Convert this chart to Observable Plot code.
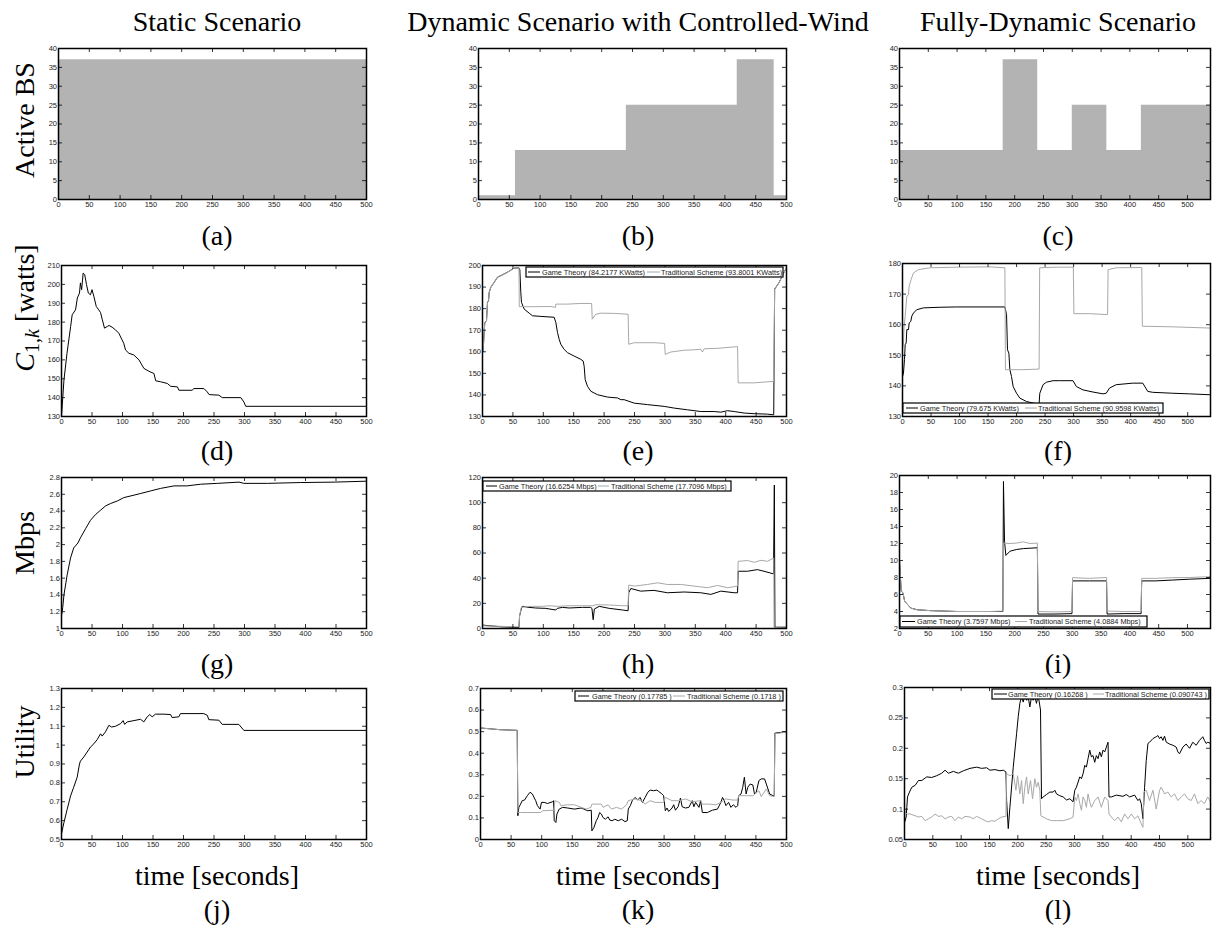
<!DOCTYPE html>
<html><head><meta charset="utf-8">
<script src="https://cdn.jsdelivr.net/npm/d3@7"></script>
<script src="https://cdn.jsdelivr.net/npm/@observablehq/plot@0.6"></script>
<style>
html,body{margin:0;padding:0;background:#fff;overflow:hidden}
#page{position:relative;width:1212px;height:933px;overflow:hidden;background:#fff}
.panel{position:absolute}
#overlay{position:absolute;left:0;top:0;z-index:5;pointer-events:none}
#overlay .serif{font-family:"Liberation Serif","DejaVu Serif",serif}
#overlay .sans{font-family:"Liberation Sans",Arial,sans-serif}
</style></head><body><div id="page"></div>
<script>
// ---------- titles & labels ----------
const columnTitles = ["Static Scenario", "Dynamic Scenario with Controlled-Wind", "Fully-Dynamic Scenario"];
const panelLetters = [["(a)","(b)","(c)"],["(d)","(e)","(f)"],["(g)","(h)","(i)"],["(j)","(k)","(l)"]];
const xAxisTitle = "time [seconds]";

// ---------- tick values ----------
const timeTicks = [0,50,100,150,200,250,300,350,400,450,500];
const bsTicks = [0,5,10,15,20,25,30,35,40];
const costTicksStatic = [130,140,150,160,170,180,190,200,210];
const costTicksWind = [130,140,150,160,170,180,190,200];
const costTicksFull = [130,140,150,160,170,180];
const rateTicksStatic = [1,1.2,1.4,1.6,1.8,2,2.2,2.4,2.6,2.8];
const rateTicksWind = [0,20,40,60,80,100,120];
const rateTicksFull = [2,4,6,8,10,12,14,16,18,20];
const utilTicksStatic = [0.5,0.6,0.7,0.8,0.9,1,1.1,1.2,1.3];
const utilTicksWind = [0,0.1,0.2,0.3,0.4,0.5,0.6,0.7];
const utilTicksFull = [0.05,0.1,0.15,0.2,0.25,0.3];

// ---------- active BS (time, count) ----------
const activeStatic = [[0,37],[500,37]];
const activeWind = [[0,1],[60,13],[240,25],[420,37],[480,1],[500,1]];
const activeFull = [[0,13],[180,37],[240,13],[300,25],[360,13],[420,25],[540,25]];

// ---------- cost C1,k (time, watts) ----------
const costStatic = [[0,130],[4,149.3],[9,163.5],[15,177.7],[17.5,183.9],[23,186.5],[26,192.8],[29.5,195.4],[31,200.8],[33,197.2],[35.5,206],[38,205.2],[41,199.9],[44,195.4],[47.5,194.5],[50,197.2],[53,193.7],[57,188.3],[61,186.5],[64,185.1],[67,181.2],[70.5,176.8],[75,177.7],[78,178.2],[83,177.3],[88.5,175.9],[94,174.1],[102,168.8],[105,165.2],[110.5,163.5],[118.5,162.6],[127,160],[135,155.5],[143,154],[151.5,152.8],[154.5,148.9],[162.5,148.4],[173.5,147.5],[179,146],[190,145.7],[192.5,143.9],[214,143.9],[217,144.8],[233.5,144.8],[239,143],[242,141.6],[258,141.3],[263.5,140],[294,140],[299,137.7],[302,135.4],[500,135.4]];
const costWindGame = [[0,160],[1,160],[2.7,169],[3.8,173.6],[6.6,174.3],[8.2,182.9],[9.9,183.7],[11,187.6],[13.7,189.9],[19.2,192.2],[24.7,194.6],[30.2,195.3],[41.1,196.9],[52.1,198.8],[60,198.9],[61.4,198],[63,187.6],[64.1,182.9],[68.5,179.8],[76.8,177.9],[82.2,176.7],[96,176.4],[117.9,176],[120.6,173.6],[123.4,168.9],[126.1,165.8],[128.8,163.5],[134.3,161.1],[139.8,159.6],[150.8,158],[161.7,156.5],[165.6,155.7],[167.2,153.3],[168.9,147.1],[172.7,144],[178.2,141.7],[189.1,140.1],[205.6,139],[222,138.6],[227.5,137.8],[233,137.8],[249.5,136.2],[271.4,135.5],[298.8,134.7],[315.2,133.9],[337.2,133.1],[359.1,132.3],[381,132.3],[392,132],[403,132.7],[414,132.3],[430.4,131.6],[446.8,131.3],[468.8,131.1],[479,130.8],[480.5,189],[488,192.2],[496,196.9],[500,198.8]];
const costWindTrad = [[0,160],[1,160],[2.7,169],[3.8,173.6],[6.6,174.3],[8.2,182.9],[9.9,183.7],[11,187.6],[13.7,189.9],[19.2,192.2],[24.7,194.6],[30.2,195.3],[41.1,196.9],[52.1,198.8],[60,198.9],[60.5,180.9],[85,180.9],[112.4,181],[120,180.6],[120.5,182.1],[139.8,182.1],[161.7,182.4],[179.5,182.4],[180.5,175.1],[186.4,177.4],[194.6,177.9],[216.6,177.8],[239.5,177.4],[240.5,163.5],[249.5,164.2],[282.3,164.2],[299.5,163.9],[300.5,158.8],[309.8,159.9],[331.7,160.7],[359.1,161.1],[361.8,159.9],[364.6,161.4],[386.5,161.6],[419.5,162.4],[420.5,145.6],[446.8,145.6],[479,146.3],[480.5,189],[488,192.2],[496,196.9],[500,198.8]];
const costFullGame = [[0,143],[1.7,144.2],[3.5,148.6],[4.7,153.5],[6.4,154],[7.6,158.4],[10.5,158.4],[11.7,160.6],[14.6,161.1],[16.3,162.8],[19.2,163.8],[25,164.9],[36.7,165.5],[65.9,165.7],[95,165.8],[153.3,165.8],[179.5,165.8],[182.4,163.3],[184.1,151.8],[186.5,150.7],[188.2,145.3],[191.1,143.1],[194,139.8],[199.9,137.6],[205.7,136],[217.4,134.9],[229,134.4],[239.5,134.1],[240.7,137.6],[246.5,140.4],[252.3,141.2],[264,141.7],[275.6,141.7],[298.9,141.7],[304.8,139.8],[316.4,138.7],[333.9,138],[351.4,137.4],[357.2,137.6],[363,139.3],[374.7,140.4],[403.8,140.9],[421.3,140.9],[430,138.2],[438.8,137.9],[473.8,137.6],[502.9,137.4],[540,137.1]];
const costFullTrad = [[0,152],[1.7,154],[2.9,159.5],[4.7,162.8],[7.6,169.3],[10.5,169.8],[11.7,172.6],[15.2,174.8],[19.2,176.9],[28,178],[48.4,178.6],[95,178.8],[153.3,178.9],[179.5,178.6],[180.5,145.3],[211.5,145.3],[239.5,145.5],[240.5,178.6],[269.8,178.8],[299.5,178.8],[300.5,163.6],[328.1,163.6],[359.5,163.3],[360.5,178],[374.7,178.6],[419.5,178.7],[420.5,159.5],[473.8,159.3],[540,158.9]];

// ---------- rate (time, Mbps) ----------
const rateStatic = [[0,1.15],[2,1.25],[4,1.4],[9.3,1.64],[14.8,1.84],[20,1.96],[27,2.02],[31,2.08],[39.5,2.19],[47.5,2.29],[56,2.36],[64,2.41],[72,2.46],[80.5,2.49],[91.5,2.52],[102,2.56],[119,2.59],[130,2.61],[146,2.64],[162.5,2.67],[184.5,2.7],[206,2.7],[228,2.72],[255.5,2.73],[291,2.745],[299,2.73],[337.5,2.73],[392,2.74],[447,2.745],[500,2.756]];
const rateWindGame = [[0,2.7],[32,1.3],[60,0.8],[61,10],[63.8,15.5],[65.5,17.6],[76.5,16.8],[87.5,16.3],[104,16],[120.5,14.7],[123,16],[131.5,16.8],[142.5,16.3],[164.5,16.8],[178,16.8],[180,16],[182,7],[184,15.5],[192,17.6],[208.5,16],[230.5,14.7],[239.5,14.1],[240.5,28.4],[244,31.8],[260,29.7],[282,30.3],[304,28.4],[331.7,29],[359,28.4],[375.5,27.1],[392,29.7],[414,28.4],[419.5,28.4],[420.5,45.5],[436,45.5],[452,46.8],[463,45.5],[478.6,43.4],[480,114],[481,1],[500,1]];
const rateWindTrad = [[0,2.1],[60,1.3],[61,10],[63.8,16.8],[76.5,17.6],[98.5,17.6],[109.5,18.1],[123,17.6],[142.5,18.1],[164.5,18.1],[181,18.1],[186.5,18.9],[208.5,18.7],[230.5,18.1],[239.5,18.1],[240.5,34.5],[250,33.7],[271,35],[288,36.3],[304,35],[326,35],[348,33.7],[370,32.4],[386.5,34.2],[403,32.4],[419.5,33.7],[420.5,53.4],[436,54],[447,52.6],[458,54.2],[469,53.4],[479,56],[479.5,0.8],[500,1.3]];
const rateFullGame = [[0,10],[3,6.4],[6,6.2],[9,5.2],[19.6,4.4],[31,4.2],[54,4.1],[100,4],[157.6,4],[179.5,4],[180.5,19.3],[182.4,12.2],[184.7,10.6],[192,11.1],[203.7,11.3],[215,11.4],[239.4,11.5],[240.5,3.7],[270,3.7],[299.5,3.75],[300.5,7.6],[330,7.6],[359.5,7.6],[360.5,3.7],[390,3.75],[419.5,3.75],[420.5,7.6],[445,7.6],[474,7.7],[503,7.8],[540,7.9]];
const rateFullTrad = [[0,10],[3,6.4],[6,6.2],[9,5.2],[19.6,4.4],[31,4.2],[54,4.1],[100,4],[157.6,4],[179.5,4.05],[180.5,12.05],[192,12],[203.7,12.05],[215,12.2],[226.7,12],[239.4,12.05],[240.5,4],[270,3.95],[299.5,4],[300.5,7.98],[330,7.9],[359.5,8],[360.5,4.05],[390,4],[419.5,4],[420.5,7.9],[445,7.9],[474,7.98],[503,8],[540,8.1]];

// ---------- utility (time, utility) ----------
const utilStatic = [[0,0.53],[4,0.59],[9.3,0.66],[14.8,0.73],[20,0.777],[25.7,0.83],[29.5,0.9],[31,0.915],[36.5,0.937],[42,0.963],[47.5,0.99],[53,1.007],[58.5,1.029],[64,1.06],[66.7,1.048],[72,1.07],[77.7,1.105],[82,1.096],[88.5,1.1],[97,1.114],[101,1.13],[103.5,1.11],[107.7,1.123],[118.7,1.13],[129.6,1.137],[135,1.123],[140.5,1.15],[144.8,1.162],[148.6,1.15],[154,1.164],[167.8,1.164],[179,1.162],[181.4,1.146],[192.3,1.15],[195,1.167],[233.3,1.167],[239,1.158],[241.5,1.135],[258,1.132],[263.4,1.11],[290.7,1.11],[299,1.078],[500,1.078]];
const utilWindGame = [[0,0.517],[32,0.509],[60,0.506],[61,0.11],[62.7,0.149],[65.5,0.164],[68.2,0.18],[72,0.183],[76.5,0.203],[80.9,0.219],[84.7,0.211],[90.2,0.18],[93,0.157],[97.4,0.141],[99.6,0.172],[104,0.172],[109.5,0.167],[117.7,0.175],[119.4,0.18],[120.5,0.087],[123.2,0.079],[124.9,0.118],[128.7,0.141],[134.2,0.149],[142.5,0.146],[153.5,0.141],[164.5,0.146],[175.5,0.133],[181,0.136],[182,0.04],[185.4,0.056],[189.2,0.087],[192,0.102],[194.7,0.125],[197.5,0.118],[200.2,0.102],[204,0.094],[208.5,0.105],[211.2,0.09],[215,0.087],[219.5,0.094],[225,0.087],[230.5,0.094],[236,0.083],[239.8,0.087],[241.5,0.141],[244.8,0.157],[248,0.18],[252.5,0.195],[257,0.183],[260.7,0.195],[264.6,0.172],[269,0.195],[273.4,0.219],[277.2,0.229],[282.7,0.226],[288.2,0.229],[291,0.223],[295.4,0.214],[299.2,0.203],[302,0.133],[304.7,0.146],[307.5,0.13],[313,0.146],[315.7,0.161],[318.5,0.136],[322.9,0.152],[326.7,0.192],[329.5,0.152],[335,0.146],[340.5,0.149],[346,0.18],[348.7,0.152],[351.5,0.172],[357,0.149],[359.7,0.18],[362.5,0.125],[370.7,0.125],[379,0.136],[387.2,0.141],[392.7,0.172],[395.5,0.195],[398.2,0.18],[401,0.157],[405.4,0.172],[409.2,0.149],[413,0.161],[417.5,0.149],[420.2,0.157],[421.9,0.203],[425.7,0.211],[428.5,0.242],[431.2,0.289],[434,0.211],[436.7,0.242],[440.6,0.257],[445,0.253],[447.7,0.211],[450.5,0.219],[454.9,0.273],[458.7,0.281],[464.2,0.281],[467,0.257],[472.5,0.211],[478,0.203],[480,0.203],[481,0.493],[500,0.5]];
const utilWindTrad = [[0,0.517],[32,0.509],[60,0.506],[61,0.125],[65.5,0.125],[98.5,0.125],[101.2,0.133],[120,0.136],[121.6,0.18],[128.7,0.172],[131.5,0.157],[142.5,0.161],[153.5,0.161],[164.5,0.149],[172.7,0.141],[180.5,0.149],[182,0.164],[197.5,0.164],[200.2,0.149],[208.5,0.161],[214,0.141],[222.2,0.149],[230.5,0.141],[238.7,0.161],[241.5,0.18],[252.5,0.188],[263.5,0.18],[269,0.164],[277.2,0.18],[285.5,0.172],[299.2,0.172],[302,0.195],[313,0.18],[324,0.18],[335,0.188],[346,0.175],[359.7,0.18],[362.5,0.164],[373.5,0.164],[384.5,0.161],[392.7,0.172],[401,0.188],[412,0.183],[420,0.183],[421.9,0.203],[445,0.203],[455,0.226],[458.7,0.199],[467,0.234],[472.5,0.203],[480,0.199],[481,0.49],[500,0.498]];
const utilFullGame = [[0,0.078],[1.2,0.081],[2.9,0.087],[4.1,0.103],[5.3,0.12],[8.8,0.128],[12.9,0.136],[18.8,0.139],[24.6,0.147],[30.5,0.147],[39.3,0.153],[48.1,0.152],[57,0.155],[65.7,0.159],[71.6,0.164],[77.5,0.159],[86.3,0.162],[95,0.159],[103.9,0.163],[115.6,0.167],[127.3,0.169],[136,0.167],[145,0.168],[150.8,0.164],[159.6,0.165],[168.4,0.163],[174.3,0.164],[179,0.161],[180.2,0.114],[183.1,0.068],[186,0.103],[191.9,0.169],[197.8,0.224],[200.7,0.252],[203.6,0.274],[206.6,0.285],[209.5,0.276],[212.4,0.287],[215.4,0.279],[218.3,0.285],[221.2,0.268],[224.2,0.285],[227.1,0.279],[230,0.285],[232.9,0.274],[235.9,0.287],[240,0.263],[241.8,0.117],[244.7,0.12],[250.6,0.124],[256.5,0.128],[262.3,0.128],[265.3,0.131],[268.2,0.125],[274.1,0.122],[280,0.12],[285.8,0.115],[291.7,0.117],[297.5,0.112],[300.5,0.131],[303.4,0.136],[309.3,0.153],[312.2,0.15],[315.1,0.158],[318.1,0.172],[321,0.169],[323.9,0.183],[326.9,0.197],[329.8,0.186],[332.7,0.188],[335.7,0.177],[338.6,0.188],[341.5,0.183],[344.5,0.194],[347.4,0.186],[350.4,0.197],[353.3,0.194],[356.2,0.202],[359.2,0.21],[360.9,0.12],[365,0.12],[373.8,0.123],[385.6,0.121],[391.4,0.124],[397.3,0.12],[406.1,0.123],[412,0.114],[414.9,0.117],[417.8,0.109],[420.8,0.084],[423.7,0.136],[426.6,0.18],[429.6,0.208],[432.5,0.21],[438.4,0.216],[444.2,0.219],[447.2,0.221],[450.1,0.216],[453,0.219],[456,0.213],[458.9,0.22],[461.9,0.21],[467.7,0.207],[473.6,0.205],[479.5,0.202],[482.4,0.194],[485.3,0.191],[491.2,0.202],[497,0.207],[503,0.2],[508.8,0.21],[514.7,0.205],[520.5,0.213],[526.4,0.219],[529.3,0.213],[532.3,0.208],[535.2,0.21],[540,0.208]];
const utilFullTrad = [[0,0.1],[1.2,0.095],[4.1,0.092],[10,0.092],[18.8,0.089],[24.6,0.087],[30.5,0.088],[36.4,0.081],[42.3,0.084],[48.1,0.087],[54,0.092],[59.9,0.088],[65.7,0.089],[71.6,0.084],[77.5,0.087],[83.3,0.088],[89.2,0.081],[95,0.087],[100.9,0.084],[106.8,0.088],[115.6,0.087],[121.5,0.084],[127.3,0.088],[136,0.084],[142,0.081],[147.9,0.079],[153.8,0.081],[159.6,0.08],[165.5,0.084],[171.4,0.087],[179,0.088],[180.2,0.158],[186,0.155],[191.9,0.158],[196.6,0.131],[199.5,0.155],[203.6,0.125],[206.6,0.147],[209.5,0.109],[212.4,0.136],[215.4,0.153],[218.3,0.125],[222.4,0.147],[226,0.117],[230,0.15],[232.9,0.136],[235.9,0.144],[238.8,0.131],[240.6,0.089],[244.7,0.087],[250.6,0.084],[259.4,0.081],[268.2,0.081],[280,0.081],[291.7,0.084],[297.5,0.087],[300.5,0.12],[303.4,0.114],[306.3,0.125],[309.3,0.109],[312.2,0.098],[315.1,0.12],[318.1,0.114],[321,0.103],[323.9,0.125],[326.9,0.112],[329.8,0.103],[335.7,0.114],[341.5,0.12],[347.4,0.103],[353.3,0.12],[359.2,0.114],[360.9,0.092],[365,0.087],[370.9,0.081],[376.8,0.087],[382.6,0.079],[388.5,0.092],[394.4,0.084],[400.2,0.092],[406.1,0.084],[412,0.089],[417.8,0.076],[420.8,0.07],[422.5,0.128],[426.6,0.131],[432.5,0.114],[438.4,0.131],[444.2,0.1],[450.1,0.131],[453,0.136],[458.9,0.125],[464.8,0.128],[470.7,0.12],[476.5,0.125],[482.4,0.114],[488.3,0.12],[494.1,0.125],[500,0.117],[505.9,0.114],[511.7,0.125],[517.6,0.109],[523.5,0.114],[529.3,0.109],[535.2,0.12],[540,0.112]];

// ---------- legend entries ----------
const legendCostWind = ["Game Theory (84.2177 KWatts)", "Traditional Scheme (93.8001 KWatts)"];
const legendCostFull = ["Game Theory (79.675 KWatts)", "Traditional Scheme (90.9598 KWatts)"];
const legendRateWind = ["Game Theory (16.6254 Mbps)", "Traditional Scheme (17.7096 Mbps)"];
const legendRateFull = ["Game Theory (3.7597 Mbps)", "Traditional Scheme (4.0884 Mbps)"];
const legendUtilWind = ["Game Theory (0.17785 )", "Traditional Scheme (0.1718 )"];
const legendUtilFull = ["Game Theory (0.16268 )", "Traditional Scheme (0.090743 )"];

// ---------- drawing ----------
const GAME = "#000000", TRAD = "#a8a8a8", AREA = "#b3b3b3";
const fmt = d => String(+(+d).toFixed(3));
const page = document.getElementById("page");

function panel(fr, xDomain, yDomain, yTicks, marks) {
  const ML = 34, MR = 2, MT = 4, MB = 16;
  const fw = fr.right - fr.left, fh = fr.bottom - fr.top;
  const xt = timeTicks.filter(t => t <= xDomain[1]);
  const chart = Plot.plot({
    width: fw + ML + MR, height: fh + MT + MB,
    marginLeft: ML, marginRight: MR, marginTop: MT, marginBottom: MB,
    x: {domain: xDomain, label: null},
    y: {domain: yDomain, label: null},
    style: {fontFamily: "'Liberation Sans', Arial, sans-serif", fontSize: "7.5px", background: "transparent", overflow: "visible", color: "#222"},
    marks: [
      ...marks,
      Plot.tickX(xt, {x: d => d, insetTop: fh - 4, stroke: "#000", strokeWidth: 0.8}),
      Plot.tickX(xt, {x: d => d, insetBottom: fh - 4, stroke: "#000", strokeWidth: 0.8}),
      Plot.tickY(yTicks, {y: d => d, insetRight: fw - 4, stroke: "#000", strokeWidth: 0.8}),
      Plot.tickY(yTicks, {y: d => d, insetLeft: fw - 4, stroke: "#000", strokeWidth: 0.8}),
      Plot.frame({stroke: "#000", strokeWidth: 1.5}),
      Plot.axisX(xt, {tickSize: 0, tickPadding: 2, tickFormat: fmt, fontSize: 7.5, fill: "#222", label: null}),
      Plot.axisY(yTicks, {tickSize: 0, tickPadding: 1.5, tickFormat: fmt, fontSize: 7.5, fill: "#222", label: null})
    ]
  });
  chart.classList.add("panel");
  chart.style.left = (fr.left - ML) + "px";
  chart.style.top = (fr.top - MT) + "px";
  chart.style.position = "absolute";
  page.appendChild(chart);
}
const area = d => Plot.areaY(d, {x: p => p[0], y: p => p[1], curve: "step-after", fill: AREA});
const line = (d, c) => Plot.line(d, {x: p => p[0], y: p => p[1], stroke: c, strokeWidth: 1, clip: true});

const F = {
  a: {left: 58, top: 48, right: 366, bottom: 199},
  b: {left: 478, top: 48, right: 786, bottom: 199},
  c: {left: 899, top: 48, right: 1210, bottom: 199},
  d: {left: 61, top: 265, right: 366, bottom: 416},
  e: {left: 482, top: 265, right: 786, bottom: 416},
  f: {left: 902, top: 263, right: 1210, bottom: 416},
  g: {left: 61, top: 477, right: 366, bottom: 628},
  h: {left: 482, top: 477, right: 786, bottom: 628},
  i: {left: 899, top: 475, right: 1210, bottom: 628},
  j: {left: 61, top: 688, right: 366, bottom: 839},
  k: {left: 480, top: 688, right: 786, bottom: 839},
  l: {left: 904, top: 687, right: 1210, bottom: 839}
};

panel(F.a, [0, 500], [0, 40], bsTicks, [area(activeStatic)]);
panel(F.b, [0, 500], [0, 40], bsTicks, [area(activeWind)]);
panel(F.c, [0, 540], [0, 40], bsTicks, [area(activeFull)]);
panel(F.d, [0, 500], [130, 210], costTicksStatic, [line(costStatic, GAME)]);
panel(F.e, [0, 500], [130, 200], costTicksWind, [line(costWindGame, GAME), line(costWindTrad, TRAD)]);
panel(F.f, [0, 540], [130, 180], costTicksFull, [line(costFullGame, GAME), line(costFullTrad, TRAD)]);
panel(F.g, [0, 500], [1, 2.8], rateTicksStatic, [line(rateStatic, GAME)]);
panel(F.h, [0, 500], [0, 120], rateTicksWind, [line(rateWindGame, GAME), line(rateWindTrad, TRAD)]);
panel(F.i, [0, 540], [2, 20], rateTicksFull, [line(rateFullGame, GAME), line(rateFullTrad, TRAD)]);
panel(F.j, [0, 500], [0.5, 1.3], utilTicksStatic, [line(utilStatic, GAME)]);
panel(F.k, [0, 500], [0, 0.7], utilTicksWind, [line(utilWindGame, GAME), line(utilWindTrad, TRAD)]);
panel(F.l, [0, 540], [0.05, 0.3], utilTicksFull, [line(utilFullGame, GAME), line(utilFullTrad, TRAD)]);

// ---------- overlay: titles, labels, legends ----------
const svg = d3.select(page).append("svg").attr("id", "overlay").attr("width", 1212).attr("height", 933).attr("fill", "#000");
const serif = svg.append("g").attr("class", "serif");
const colX = [217, 638, 1058];
columnTitles.forEach((t, i) => serif.append("text").attr("x", colX[i]).attr("y", 31).attr("text-anchor", "middle").attr("font-size", 28).text(t));
const letterY = [245, 460, 673, 919];
panelLetters.forEach((row, r) => row.forEach((t, c) => serif.append("text").attr("x", colX[c]).attr("y", letterY[r]).attr("text-anchor", "middle").attr("font-size", 28).text(t)));
colX.forEach(x => serif.append("text").attr("x", x).attr("y", 885).attr("text-anchor", "middle").attr("font-size", 28).text(xAxisTitle));

function ylab(y, build) {
  const t = serif.append("text").attr("transform", `translate(34,${y}) rotate(-90)`).attr("text-anchor", "middle").attr("font-size", 28);
  build(t);
}
ylab(120, t => t.text("Active BS"));
ylab(308, t => {
  t.append("tspan").attr("font-style", "italic").text("C");
  t.append("tspan").attr("font-size", 20).attr("dy", 5).text("1,");
  t.append("tspan").attr("font-size", 20).attr("font-style", "italic").text("k");
  t.append("tspan").attr("dy", -5).text(" [watts]");
});
ylab(543, t => t.text("Mbps"));
ylab(742, t => t.text("Utility"));

function legend(box, l1, t1, l2, t2, labels) {
  const g = svg.append("g").attr("class", "sans").attr("font-size", 7.3);
  g.append("rect").attr("x", box[0]).attr("y", box[1]).attr("width", box[2] - box[0]).attr("height", box[3] - box[1])
    .attr("fill", "#fff").attr("stroke", "#000").attr("stroke-width", 1.2);
  const cy = (box[1] + box[3]) / 2;
  g.append("line").attr("x1", l1[0]).attr("x2", l1[1]).attr("y1", cy).attr("y2", cy).attr("stroke", GAME).attr("stroke-width", 1);
  g.append("text").attr("x", t1).attr("y", cy + 2.6).attr("fill", "#222").text(labels[0]);
  g.append("line").attr("x1", l2[0]).attr("x2", l2[1]).attr("y1", cy).attr("y2", cy).attr("stroke", TRAD).attr("stroke-width", 1);
  g.append("text").attr("x", t2).attr("y", cy + 2.6).attr("fill", "#222").text(labels[1]);
}
legend([526, 267, 783, 277], [528, 540], 542, [647, 660], 661, legendCostWind);
legend([903, 403, 1163, 413], [906, 918], 920, [1025, 1037], 1038, legendCostFull);
legend([483, 481, 731, 491], [486, 497], 499, [598, 609], 611, legendRateWind);
legend([900, 616, 1147, 627], [902, 915], 917, [1015, 1027], 1029, legendRateFull);
legend([575, 691, 783, 701], [578, 589], 592, [673, 685], 687, legendUtilWind);
legend([992, 689, 1209, 699], [994, 1007], 1008, [1093, 1104], 1105, legendUtilFull);
</script></body></html>
